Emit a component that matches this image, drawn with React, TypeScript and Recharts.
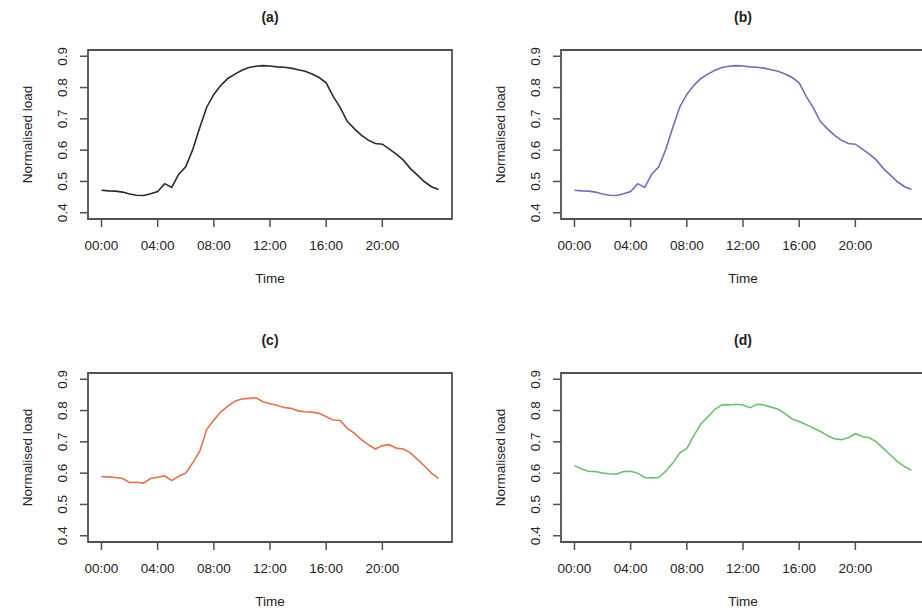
import React from "react";
import { LineChart, Line, XAxis, YAxis, ReferenceArea } from "recharts";

// half-hour steps, 00:00 .. 24:00
const hours = [
  0, 0.5, 1, 1.5, 2, 2.5, 3, 3.5, 4, 4.5, 5, 5.5, 6, 6.5, 7, 7.5, 8, 8.5, 9, 9.5,
  10, 10.5, 11, 11.5, 12, 12.5, 13, 13.5, 14, 14.5, 15, 15.5, 16, 16.5, 17, 17.5,
  18, 18.5, 19, 19.5, 20, 20.5, 21, 21.5, 22, 22.5, 23, 23.5, 24,
];

const loadA = [
  0.472, 0.47, 0.469, 0.466, 0.46, 0.456, 0.455, 0.461, 0.468, 0.493, 0.481, 0.523,
  0.547, 0.602, 0.672, 0.738, 0.778, 0.807, 0.829, 0.843, 0.855, 0.864, 0.868, 0.87,
  0.869, 0.866, 0.865, 0.862, 0.857, 0.852, 0.843, 0.832, 0.815, 0.772, 0.736, 0.692,
  0.669, 0.648, 0.632, 0.621, 0.619, 0.603, 0.587, 0.568, 0.541, 0.52, 0.499, 0.483,
  0.474,
];

const loadB = [
  0.472, 0.47, 0.469, 0.466, 0.46, 0.456, 0.455, 0.461, 0.468, 0.493, 0.481, 0.523,
  0.547, 0.602, 0.672, 0.738, 0.778, 0.807, 0.829, 0.843, 0.855, 0.864, 0.868, 0.87,
  0.869, 0.866, 0.865, 0.862, 0.857, 0.852, 0.843, 0.832, 0.815, 0.772, 0.736, 0.692,
  0.669, 0.648, 0.632, 0.621, 0.619, 0.603, 0.587, 0.568, 0.541, 0.52, 0.499, 0.483,
  0.474,
];

const loadC = [
  0.589, 0.588, 0.586, 0.583, 0.57, 0.571, 0.568, 0.583, 0.587, 0.591, 0.576, 0.59,
  0.6, 0.633, 0.67, 0.74, 0.77, 0.796, 0.814, 0.83, 0.837, 0.839, 0.841, 0.828,
  0.822, 0.817, 0.81, 0.807, 0.799, 0.796, 0.795, 0.791, 0.78, 0.77, 0.768, 0.743,
  0.728, 0.707, 0.691, 0.677, 0.688, 0.691, 0.68, 0.677, 0.665, 0.644, 0.623, 0.6,
  0.583,
];

const loadD = [
  0.624, 0.613, 0.606, 0.605, 0.6, 0.598, 0.597, 0.605, 0.606, 0.6, 0.586, 0.585,
  0.586, 0.606, 0.632, 0.665, 0.679, 0.72, 0.757, 0.78, 0.804, 0.818, 0.818, 0.82,
  0.818, 0.809, 0.82, 0.818, 0.811, 0.804, 0.79, 0.773, 0.765, 0.755, 0.744, 0.734,
  0.72, 0.71, 0.707, 0.713, 0.726, 0.717, 0.713, 0.7, 0.679, 0.658, 0.637, 0.621,
  0.609,
];

const xTicks = [0, 4, 8, 12, 16, 20];
const yTicks = [0.4, 0.5, 0.6, 0.7, 0.8, 0.9];

// R-style 4% padding around the 0..24 / 0.4..0.9 ranges
const X_DOMAIN: [number, number] = [-0.96, 24.96];
const Y_DOMAIN: [number, number] = [0.38, 0.92];

const FONT = "'Liberation Sans', Arial, sans-serif";
const FS = 13.5;
const TEXT = "#262224";
const FRAME = "#505050";

const fmtTime = (h: number) => `${String(h).padStart(2, "0")}:00`;

function YTick(props: any) {
  const { x, y, payload } = props;
  return (
    <text
      x={x}
      y={y}
      transform={`rotate(-90 ${x} ${y})`}
      textAnchor="middle"
      dy="0.355em"
      fill={TEXT}
      fontSize={FS}
      fontFamily={FONT}
    >
      {Number(payload.value).toFixed(1)}
    </text>
  );
}

function Panel({
  title,
  values,
  color,
  left,
  top,
}: {
  title: string;
  values: number[];
  color: string;
  left: number;
  top: number;
}) {
  const data = hours.map((h, i) => ({ h, v: values[i] }));
  return (
    <div style={{ position: "absolute", left: left - 88, top: top - 50 }}>
      <LineChart width={462} height={294} data={data} margin={{ top: 50, right: 10, bottom: 0, left: 0 }}>
        <XAxis
          dataKey="h"
          type="number"
          domain={X_DOMAIN}
          ticks={xTicks}
          tickFormatter={fmtTime}
          height={75}
          axisLine={false}
          tickLine={{ stroke: FRAME, strokeWidth: 1.5 }}
          tickSize={8}
          tickMargin={13}
          tick={{ fill: TEXT, fontSize: FS, fontFamily: FONT }}
          label={{
            value: "Time",
            position: "insideBottom",
            offset: 11,
            fill: TEXT,
            fontSize: FS,
            fontFamily: FONT,
          }}
        />
        <YAxis
          type="number"
          domain={Y_DOMAIN}
          ticks={yTicks}
          width={88}
          axisLine={false}
          tickLine={{ stroke: FRAME, strokeWidth: 1.5 }}
          tickSize={8}
          tickMargin={18}
          tick={<YTick />}
          label={{
            value: "Normalised load",
            angle: -90,
            position: "insideLeft",
            offset: 27.5,
            fill: TEXT,
            fontSize: FS,
            fontFamily: FONT,
            style: { textAnchor: "middle" },
          }}
        />
        <ReferenceArea
          x1={X_DOMAIN[0]}
          x2={X_DOMAIN[1]}
          y1={Y_DOMAIN[0]}
          y2={Y_DOMAIN[1]}
          fill="none"
          stroke={FRAME}
          strokeWidth={1.8}
          ifOverflow="visible"
          label={{
            value: title,
            position: "top",
            offset: 28,
            fill: "#1e1e1e",
            fontSize: 14,
            fontWeight: "bold",
            fontFamily: FONT,
          }}
        />
        <Line
          dataKey="v"
          type="linear"
          stroke={color}
          strokeWidth={1.6}
          dot={false}
          isAnimationActive={false}
        />
      </LineChart>
    </div>
  );
}

export default function App() {
  return (
    <div
      style={{
        position: "absolute",
        left: 0,
        top: 0,
        width: 922,
        height: 612,
        overflow: "hidden",
        background: "#fff",
      }}
    >
      <Panel title="(a)" values={loadA} color="#2b2b2b" left={88} top={50} />
      <Panel title="(b)" values={loadB} color="#6f6fb8" left={561} top={50} />
      <Panel title="(c)" values={loadC} color="#e2714f" left={88} top={373} />
      <Panel title="(d)" values={loadD} color="#6fbf6f" left={561} top={373} />
    </div>
  );
}
